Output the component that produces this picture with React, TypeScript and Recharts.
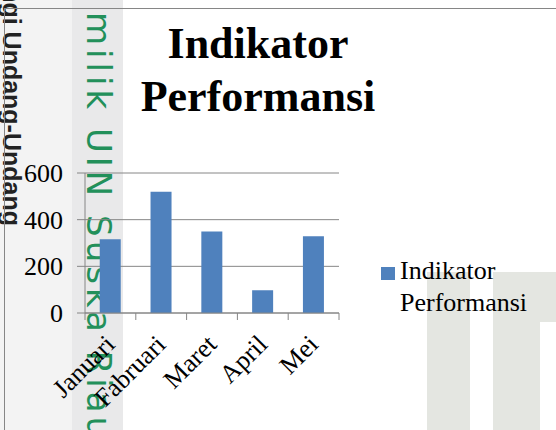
import React from "react";
import { BarChart, Bar, XAxis, YAxis, CartesianGrid, Legend } from "recharts";

const months = ["Januari", "Fabruari", "Maret", "April", "Mei"];
const performansi = [316, 520, 349, 98, 329];
const yTicks = [0, 200, 400, 600];

const data = months.map((month, i) => ({ month, value: performansi[i] }));

const SERIF = "Liberation Serif";
const SANS = "Liberation Sans";
const GRID = "#868686";
const BLUE = "#4f81bd";

const W = 556;
const H = 430;
const MARGIN = { top: 173, right: 217, bottom: 57, left: 0 };
const Y_W = 85;
const BAND = (W - MARGIN.left - Y_W - MARGIN.right) / months.length;

interface TickProps {
  x?: number;
  y?: number;
  index?: number;
  payload?: { value: string | number };
}

const MonthTick = ({ x = 0, y = 0, index = 0, payload }: TickProps) => {
  const ax = x + 6;
  const ay = y + 33;
  return (
    <g>
      <line x1={x - BAND / 2} y1={y} x2={x - BAND / 2} y2={y + 7} stroke={GRID} />
      {index === months.length - 1 && (
        <line x1={x + BAND / 2} y1={y} x2={x + BAND / 2} y2={y + 7} stroke={GRID} />
      )}
      <text
        x={ax}
        y={ay}
        textAnchor="end"
        transform={`rotate(-45, ${ax}, ${ay})`}
        style={{ fontFamily: SERIF, fontSize: 26 }}
        fill="#000"
      >
        {payload?.value}
      </text>
    </g>
  );
};

const ValueTick = ({ x = 0, y = 0, payload }: TickProps) => (
  <text
    x={x}
    y={y}
    dy={9}
    textAnchor="end"
    style={{ fontFamily: SERIF, fontSize: 26 }}
    fill="#000"
  >
    {payload?.value}
  </text>
);

const renderLegend = (props: any) => {
  const item = props.payload?.[0];
  return (
    <div style={{ display: "flex", alignItems: "flex-start" }}>
      <div
        style={{
          width: 14,
          height: 13,
          marginTop: 12,
          marginRight: 5,
          background: item?.color ?? BLUE,
          flexShrink: 0,
        }}
      />
      <div
        style={{
          fontFamily: SERIF,
          fontSize: 26,
          lineHeight: "32px",
          color: "#000",
          width: 140,
        }}
      >
        {item?.value}
      </div>
    </div>
  );
};

// scan watermark behind the chart
const Watermark = () => (
  <svg width={W} height={H} style={{ position: "absolute", left: 0, top: 0 }}>
    <rect x={0} y={0} width={72} height={H} fill="#f3f3f3" />
    <rect x={72} y={0} width={51} height={H} fill="#e9e9ea" />
    <rect x={427} y={272} width={43} height={H - 272} fill="#e4e6e1" />
    <rect x={493} y={272} width={63} height={H - 272} fill="#e4e6e1" />
    <polygon points={`540,322 556,322 556,${H} 540,${H}`} fill="#ffffff" />
    <text
      x={3}
      y={226}
      textAnchor="end"
      transform="rotate(90, 3, 226)"
      style={{ fontFamily: SANS, fontWeight: "bold", fontSize: 25 }}
      fill="#222"
    >
      Hak Cipta Dilindungi Undang-Undang
    </text>
    <text
      x={87}
      y={12}
      transform="rotate(90, 87, 12)"
      style={{ fontFamily: "DejaVu Sans", fontSize: 34, letterSpacing: 4 }}
      fill="#22905a"
    >
      milik UIN Suska Riau
    </text>
  </svg>
);

export default function App() {
  return (
    <div
      style={{
        position: "absolute",
        left: 0,
        top: 0,
        width: W,
        height: H,
        overflow: "hidden",
        background: "#fff",
        fontFamily: SERIF,
      }}
    >
      <Watermark />
      <div
        style={{
          position: "absolute",
          left: 4,
          top: 8,
          width: W,
          height: H,
          borderTop: `1px solid ${GRID}`,
          borderLeft: `1px solid ${GRID}`,
        }}
      />
      <div
        style={{
          position: "absolute",
          left: 108,
          top: 17,
          width: 300,
          textAlign: "center",
          fontFamily: SERIF,
          fontWeight: "bold",
          fontSize: 44,
          lineHeight: "53px",
          color: "#000",
        }}
      >
        Indikator
        <br />
        Performansi
      </div>
      <div style={{ position: "absolute", left: 0, top: 0 }}>
        <BarChart
          width={W}
          height={H}
          data={data}
          margin={MARGIN}
          barCategoryGap="29%"
          style={{ fontFamily: SERIF }}
        >
          <CartesianGrid horizontal vertical={false} stroke={GRID} />
          <XAxis
            dataKey="month"
            height={60}
            interval={0}
            tickSize={0}
            tickMargin={0}
            tickLine={false}
            axisLine={{ stroke: GRID }}
            tick={<MonthTick />}
          />
          <YAxis
            width={Y_W}
            domain={[0, 600]}
            ticks={yTicks}
            tickSize={8}
            tickMargin={14}
            axisLine={{ stroke: GRID }}
            tickLine={{ stroke: GRID }}
            tick={<ValueTick />}
          />
          <Legend
            layout="horizontal"
            verticalAlign="middle"
            align="center"
            content={renderLegend}
            wrapperStyle={{ position: "absolute", left: 381, top: 255, width: 170 }}
          />
          <Bar
            dataKey="value"
            name="Indikator Performansi"
            fill={BLUE}
            isAnimationActive={false}
          />
        </BarChart>
      </div>
    </div>
  );
}
